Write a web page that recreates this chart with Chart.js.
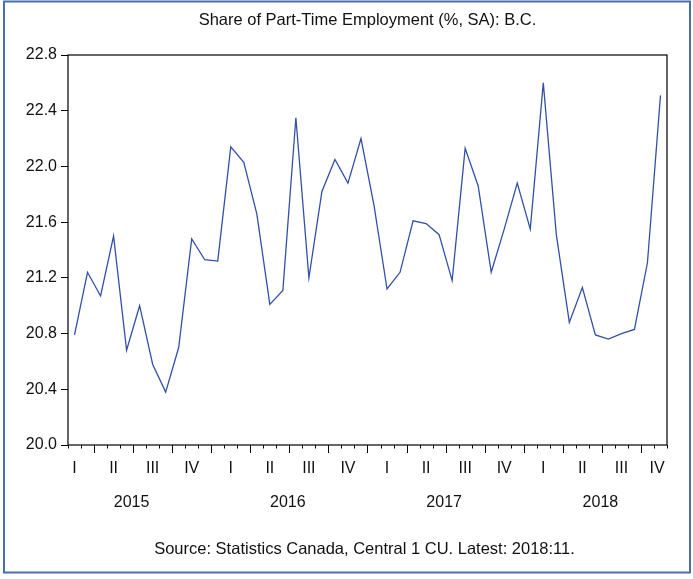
<!DOCTYPE html>
<html>
<head>
<meta charset="utf-8">
<script src="https://cdn.jsdelivr.net/npm/chart.js@4.4.1/dist/chart.umd.min.js"></script>
<style>
  html, body { margin: 0; padding: 0; background: #fff; }
  #wrap { width: 693px; height: 579px; position: relative; }
</style>
</head>
<body>
<div id="wrap"><canvas id="chart"></canvas></div>
<script>
// monthly observations, Feb 2015 to Nov 2018
const months = [
  '2015:02', '2015:03', '2015:04', '2015:05', '2015:06', '2015:07', '2015:08', '2015:09', '2015:10', '2015:11', '2015:12',
  '2016:01', '2016:02', '2016:03', '2016:04', '2016:05', '2016:06', '2016:07', '2016:08', '2016:09', '2016:10', '2016:11', '2016:12',
  '2017:01', '2017:02', '2017:03', '2017:04', '2017:05', '2017:06', '2017:07', '2017:08', '2017:09', '2017:10', '2017:11', '2017:12',
  '2018:01', '2018:02', '2018:03', '2018:04', '2018:05', '2018:06', '2018:07', '2018:08', '2018:09', '2018:10', '2018:11'
];
const partTimeShare = [
  20.79, 21.24, 21.07, 21.50, 20.68, 21.00, 20.58, 20.38, 20.70, 21.48, 21.33, 21.32,
  22.14, 22.03, 21.66, 21.01, 21.11, 22.35, 21.20, 21.82, 22.05, 21.88, 22.20, 21.72,
  21.12, 21.24, 21.61, 21.59, 21.51, 21.18, 22.13, 21.86, 21.24, 21.55, 21.88, 21.55,
  22.60, 21.51, 20.88, 21.13, 20.79, 20.76, 20.80, 20.83, 21.31, 22.51
];
const quarterNames = ['I', 'II', 'III', 'IV'];
const yMin = 20.0;
const yMax = 22.8;
const yStep = 0.4;

const titleText = 'Share of Part-Time Employment (%, SA): B.C.';
const sourceText = 'Source: Statistics Canada, Central 1 CU. Latest: 2018:11.';

const FONT = '"Liberation Sans", Arial, sans-serif';

// title, frame, month ticks, quarter + year labels, source, outer border
const periodAxis = {
  id: 'periodAxis',
  beforeDraw(chart) {
    const ctx = chart.ctx;
    ctx.save();
    ctx.fillStyle = '#fff';
    ctx.fillRect(0, 0, chart.width, chart.height);
    ctx.restore();
  },
  afterDraw(chart) {
    const ctx = chart.ctx;
    const area = chart.chartArea;
    const x = chart.scales.x;
    const x0 = x.getPixelForValue(0);
    const step = x.getPixelForValue(1) - x0;
    const px = i => x0 + i * step;
    const midX = (area.left + area.right) / 2;

    ctx.save();
    // plot frame
    ctx.strokeStyle = '#000';
    ctx.lineWidth = 1.2;
    ctx.strokeRect(area.left, area.top, area.right - area.left, area.bottom - area.top);

    // month ticks, long at quarter starts
    ctx.lineWidth = 1;
    for (let i = 0; i <= months.length; i++) {
      const bx = Math.round(px(i - 0.5)) + 0.5;
      let long = false;
      if (i < months.length) {
        const m = +months[i].split(':')[1];
        long = (m - 1) % 3 === 0;
      }
      ctx.beginPath();
      ctx.moveTo(bx, area.bottom);
      ctx.lineTo(bx, area.bottom + (long ? 8 : 3.5));
      ctx.stroke();
    }

    ctx.fillStyle = '#111';
    ctx.textAlign = 'center';
    ctx.textBaseline = 'middle';
    ctx.font = '16px ' + FONT;
    const seenQ = {};
    const seenY = {};
    months.forEach((lab, i) => {
      const [yr, mo] = lab.split(':').map(Number);
      const q = Math.floor((mo - 1) / 3);
      const qKey = yr + '-' + q;
      if (!seenQ[qKey]) {
        seenQ[qKey] = true;
        const startIdx = i - ((mo - 1) % 3);
        let cx = px(startIdx + 1);
        cx = Math.min(cx, area.right - 10);
        ctx.fillText(quarterNames[q], cx, area.bottom + 24);
      }
      if (!seenY[yr]) {
        seenY[yr] = true;
        const janIdx = i - (mo - 1);
        ctx.fillText(String(yr), px(janIdx + 5.5) - 1.5, area.bottom + 58);
      }
    });

    ctx.font = '16.5px ' + FONT;
    ctx.fillText(titleText, midX, 20);
    ctx.fillText(sourceText, midX - 3, 549);

    // outer border
    ctx.strokeStyle = '#4a6ea9';
    ctx.lineWidth = 2;
    ctx.strokeRect(4, 1.5, chart.width - 7, chart.height - 8);
    ctx.restore();
  }
};

new Chart(document.getElementById('chart'), {
  type: 'line',
  data: {
    labels: months,
    datasets: [{
      label: 'Share of part-time employment',
      data: partTimeShare,
      borderColor: '#3350a8',
      borderWidth: 1.3,
      pointRadius: 0,
      tension: 0,
      fill: false
    }]
  },
  options: {
    responsive: true,
    maintainAspectRatio: false,
    animation: false,
    layout: { padding: { left: 0, right: 26, top: 55, bottom: 0 } },
    plugins: {
      legend: { display: false },
      tooltip: { enabled: false },
      title: { display: false }
    },
    scales: {
      x: {
        type: 'category',
        offset: true,
        grid: { display: false },
        border: { display: false },
        ticks: { display: false },
        afterFit: s => { s.height = 134; }
      },
      y: {
        min: yMin,
        max: yMax,
        grid: { drawOnChartArea: false, tickLength: 7, color: '#000' },
        border: { display: false },
        ticks: {
          stepSize: yStep,
          padding: 4,
          color: '#111',
          font: { family: FONT, size: 16 },
          callback: v => Number(v).toFixed(1)
        },
        afterFit: s => { s.width = 68; }
      }
    }
  },
  plugins: [periodAxis]
});
</script>
</body>
</html>
